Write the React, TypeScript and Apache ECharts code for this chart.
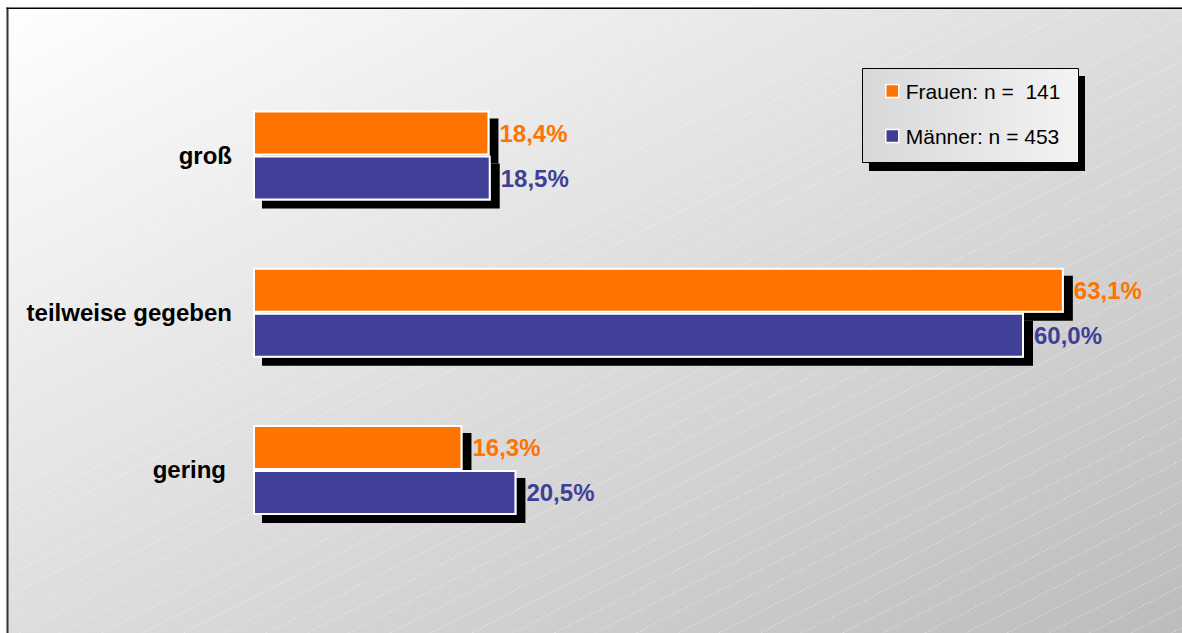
import React, { useEffect, useRef } from "react";
import * as echarts from "echarts";

const categories = ["groß", "teilweise gegeben", "gering"];
const frauenValues = [18.4, 63.1, 16.3];
const maennerValues = [18.5, 60.0, 20.5];
const seriesNames = ["Frauen: n =  141", "Männer: n = 453"];
const seriesColors = ["#FF7300", "#3F3F98"];

const FONT = "'Liberation Sans', Arial, sans-serif";

function fmt(v: number) {
  return v.toFixed(1).replace(".", ",") + "%";
}

export default function App() {
  const ref = useRef<HTMLDivElement>(null);

  useEffect(() => {
    if (!ref.current) return;
    const chart = echarts.init(ref.current, null, { renderer: "svg" });

    const lines: any[] = [];
    for (let c = 8; c < 1260; c += 21) {
      lines.push({
        type: "line",
        z: -9,
        silent: true,
        shape: { x1: 9, y1: c, x2: 1182, y2: c - 0.51 * 1173 },
        style: { stroke: "rgba(255,255,255,0.45)", lineWidth: 1, lineDash: [2, 2] },
      });
    }

    const mkSeries = (idx: number, data: number[]) => ({
      type: "bar",
      name: seriesNames[idx],
      data,
      barWidth: 45,
      barGap: "0%",
      itemStyle: {
        color: seriesColors[idx],
        borderColor: "#ffffff",
        borderWidth: 2,
        shadowColor: "#000000",
        shadowBlur: 0,
        shadowOffsetX: 9,
        shadowOffsetY: 8,
      },
      label: {
        show: true,
        position: "right",
        distance: 10,
        formatter: (p: any) => fmt(p.value),
        color: seriesColors[idx],
        fontSize: 24,
        fontWeight: "bold",
        fontFamily: FONT,
      },
    });

    chart.setOption({
      animation: false,
      backgroundColor: new echarts.graphic.LinearGradient(0, 0, 1, 1, [
        { offset: 0, color: "#ffffff" },
        { offset: 1, color: "#bcbcbc" },
      ]),
      grid: { left: 253, right: 29.5, top: 77, bottom: 84.5, containLabel: false },
      xAxis: { type: "value", min: 0, max: 70, show: false },
      yAxis: {
        type: "category",
        data: categories,
        inverse: true,
        axisLine: { show: false },
        axisTick: { show: false },
        splitLine: { show: false },
        axisLabel: {
          margin: 21,
          color: "#000",
          fontSize: 24,
          fontWeight: "bold",
          fontFamily: FONT,
          formatter: (v: string) => (v === "gering" ? "{p|" + v + "}" : v),
          rich: {
            p: { fontSize: 24, fontWeight: "bold", fontFamily: FONT, color: "#000", padding: [0, 6, 0, 0] },
          },
        },
      },
      legend: {
        orient: "vertical",
        left: 885,
        top: 80,
        padding: 0,
        itemWidth: 13,
        itemHeight: 13,
        itemGap: 23,
        icon: "rect",
        selectedMode: false,
        data: seriesNames,
        itemStyle: {
          borderColor: "#ffffff",
          borderWidth: 1.5,
          shadowColor: "rgba(0,0,0,0)",
          shadowBlur: 0,
          shadowOffsetX: 0,
          shadowOffsetY: 0,
        },
        textStyle: { fontSize: 21, lineHeight: 22, color: "#000", fontFamily: FONT, padding: [0, 0, 0, 2] },
      },
      graphic: [
        ...lines,
        {
          type: "rect",
          z: -7,
          silent: true,
          shape: { x: 0, y: 0, width: 1182, height: 7 },
          style: { fill: "#ffffff" },
        },
        {
          type: "rect",
          z: -7,
          silent: true,
          shape: { x: 0, y: 0, width: 7, height: 633 },
          style: { fill: "#ffffff" },
        },
        {
          type: "rect",
          z: -6,
          silent: true,
          shape: { x: 6.5, y: 7.5, width: 2, height: 626 },
          style: { fill: "#333" },
        },
        {
          type: "rect",
          z: -6,
          silent: true,
          shape: { x: 6.5, y: 7.5, width: 1176, height: 1.5 },
          style: { fill: "#000" },
        },
        {
          type: "rect",
          z: -8,
          silent: true,
          shape: { x: 869, y: 76, width: 216, height: 95 },
          style: { fill: "#000" },
        },
        {
          type: "rect",
          z: -8,
          silent: true,
          shape: { x: 862.5, y: 68.5, width: 216, height: 94 },
          style: {
            fill: new echarts.graphic.LinearGradient(0, 0, 1, 0, [
              { offset: 0, color: "#d8d8d8" },
              { offset: 1, color: "#f3f3f3" },
            ]),
            stroke: "#000",
            lineWidth: 1,
          },
        },
      ],
      series: [mkSeries(0, frauenValues), mkSeries(1, maennerValues)],
    });

    return () => chart.dispose();
  }, []);

  return (
    <div
      ref={ref}
      style={{ position: "absolute", left: 0, top: 0, width: 1182, height: 633, overflow: "hidden" }}
    />
  );
}
